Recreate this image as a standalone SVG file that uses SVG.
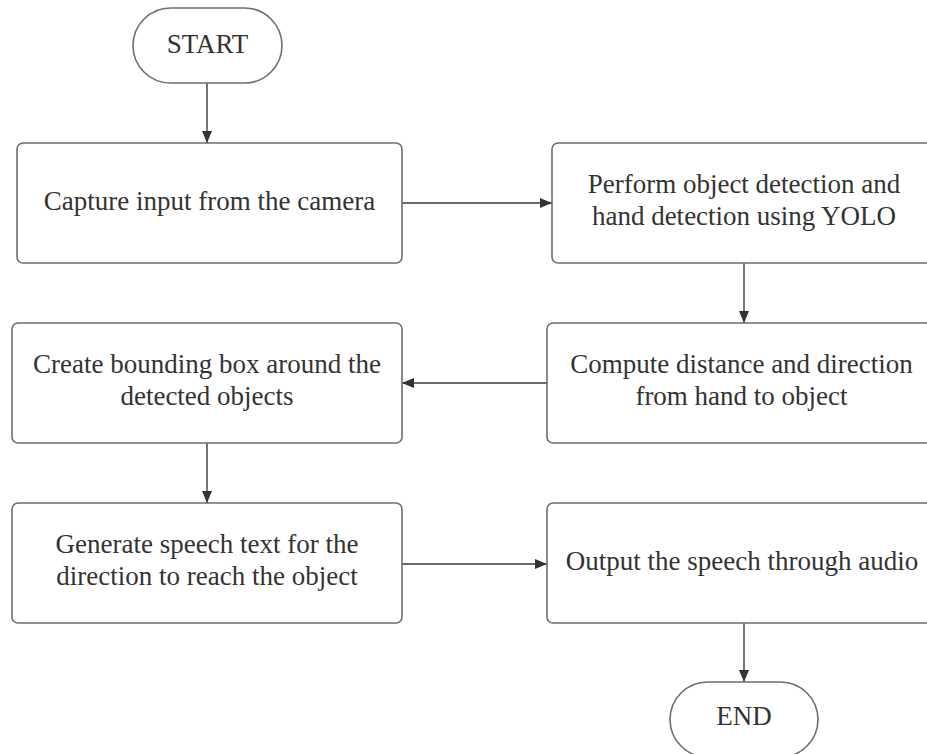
<svg xmlns="http://www.w3.org/2000/svg" width="927" height="754" viewBox="0 0 927 754">
  <style>
    .box { fill: #ffffff; stroke: #6e6e6e; stroke-width: 1.6; }
    .lbl { font-family: "Liberation Serif", "Times New Roman", serif; font-size: 27px; fill: #333333; text-anchor: middle; }
    .edge { fill: none; stroke: #3a3a3a; stroke-width: 1.4; marker-end: url(#arrow); }
  </style>
  <defs>
    <marker id="arrow" viewBox="0 0 12 10" refX="12" refY="5" markerWidth="12" markerHeight="10" markerUnits="userSpaceOnUse" orient="auto">
      <path d="M0,0 L12,5 L0,10 Z" fill="#333333"/>
    </marker>
  </defs>
  <rect width="927" height="754" fill="#ffffff"/>

  <g id="connectors">
    <path class="edge" d="M207,83 V143"/>
    <path class="edge" d="M402,203 H552"/>
    <path class="edge" d="M744,263 V323"/>
    <path class="edge" d="M547,383 H402"/>
    <path class="edge" d="M207,443 V503"/>
    <path class="edge" d="M402,564 H547"/>
    <path class="edge" d="M744,623 V682"/>
  </g>

  <g id="start">
    <rect class="box" x="133" y="8" width="149" height="75" rx="37.5"/>
    <text class="lbl" x="207.5" y="53">START</text>
  </g>

  <g id="capture">
    <rect class="box" x="17" y="143" width="385" height="120" rx="6"/>
    <text class="lbl" x="209.5" y="210">Capture input from the camera</text>
  </g>

  <g id="detect">
    <rect class="box" x="552" y="143" width="385" height="120" rx="6"/>
    <text class="lbl" x="744" y="193">Perform object detection and</text>
    <text class="lbl" x="744" y="225">hand detection using YOLO</text>
  </g>

  <g id="compute">
    <rect class="box" x="547" y="323" width="385" height="120" rx="6"/>
    <text class="lbl" x="741.5" y="373">Compute distance and direction</text>
    <text class="lbl" x="741.5" y="405">from hand to object</text>
  </g>

  <g id="bbox">
    <rect class="box" x="12" y="323" width="390" height="120" rx="6"/>
    <text class="lbl" x="207" y="373">Create bounding box around the</text>
    <text class="lbl" x="207" y="405">detected objects</text>
  </g>

  <g id="speech">
    <rect class="box" x="12" y="503" width="390" height="120" rx="6"/>
    <text class="lbl" x="207" y="553">Generate speech text for the</text>
    <text class="lbl" x="207" y="585">direction to reach the object</text>
  </g>

  <g id="audio">
    <rect class="box" x="547" y="503" width="385" height="120" rx="6"/>
    <text class="lbl" x="742" y="570">Output the speech through audio</text>
  </g>

  <g id="end">
    <rect class="box" x="670" y="682" width="148" height="75" rx="37.5"/>
    <text class="lbl" x="744" y="725">END</text>
  </g>
</svg>
